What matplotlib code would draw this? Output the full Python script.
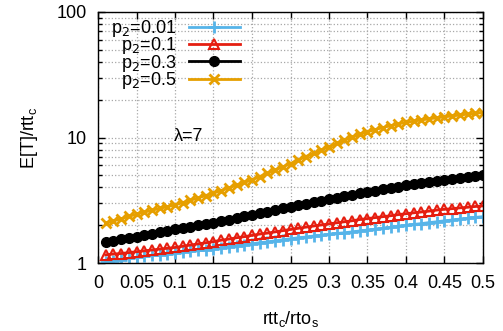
import numpy as np
import matplotlib
matplotlib.use("Agg")
import matplotlib.pyplot as plt
from matplotlib.ticker import LogLocator, NullFormatter, FuncFormatter

plt.rcParams['font.family'] = ['Liberation Sans', 'DejaVu Sans']

# x values: rtt_c / rto_s
x = [round(0.01 * i, 2) for i in range(1, 51)]

# E[T]/rtt_c for each p2
p2_001 = [1.02, 1.04, 1.06, 1.09, 1.11, 1.13, 1.15, 1.16, 1.18, 1.20,
          1.22, 1.24, 1.26, 1.28, 1.30, 1.32, 1.35, 1.37, 1.40, 1.42,
          1.45, 1.47, 1.50, 1.53, 1.56, 1.59, 1.61, 1.64, 1.66, 1.69,
          1.72, 1.74, 1.77, 1.80, 1.83, 1.86, 1.89, 1.92, 1.96, 1.99,
          2.03, 2.06, 2.10, 2.13, 2.17, 2.20, 2.24, 2.27, 2.31, 2.34]
p2_01 = [1.16, 1.18, 1.19, 1.21, 1.23, 1.25, 1.27, 1.29, 1.31, 1.33,
         1.36, 1.39, 1.42, 1.45, 1.48, 1.52, 1.55, 1.59, 1.62, 1.66,
         1.70, 1.73, 1.77, 1.81, 1.85, 1.89, 1.93, 1.97, 2.01, 2.05,
         2.09, 2.13, 2.17, 2.22, 2.26, 2.30, 2.34, 2.38, 2.43, 2.47,
         2.51, 2.55, 2.59, 2.64, 2.68, 2.71, 2.75, 2.78, 2.82, 2.85]
p2_03 = [1.48, 1.51, 1.55, 1.58, 1.62, 1.66, 1.71, 1.75, 1.80, 1.85,
         1.90, 1.95, 2.00, 2.05, 2.10, 2.16, 2.22, 2.29, 2.35, 2.42,
         2.49, 2.57, 2.64, 2.72, 2.80, 2.88, 2.97, 3.05, 3.14, 3.22,
         3.31, 3.40, 3.50, 3.59, 3.68, 3.77, 3.87, 3.96, 4.06, 4.15,
         4.24, 4.33, 4.42, 4.51, 4.60, 4.69, 4.77, 4.86, 4.94, 5.03]
p2_05 = [2.07, 2.16, 2.25, 2.35, 2.45, 2.54, 2.63, 2.72, 2.81, 2.90,
         3.03, 3.16, 3.30, 3.45, 3.60, 3.78, 3.97, 4.17, 4.38, 4.60,
         4.88, 5.18, 5.50, 5.84, 6.20, 6.62, 7.05, 7.50, 7.96, 8.45,
         8.98, 9.52, 10.05, 10.58, 11.10, 11.55, 12.00, 12.42, 12.82, 13.20,
         13.50, 13.80, 14.08, 14.35, 14.60, 14.85, 15.10, 15.35, 15.58, 15.80]

x_ticks = [0, 0.05, 0.1, 0.15, 0.2, 0.25, 0.3, 0.35, 0.4, 0.45, 0.5]
x_tick_labels = ['0', '0.05', '0.1', '0.15', '0.2', '0.25', '0.3', '0.35', '0.4', '0.45', '0.5']

fig = plt.figure(figsize=(5.03, 3.31), dpi=100)
ax = fig.add_axes([98 / 503, 1 - 263 / 331, 385 / 503, 251 / 331])

ax.plot(x, p2_001, color='#56b4e9', lw=2, marker='+', ms=8, mew=2, label='p$_2$=0.01')
ax.plot(x, p2_01, color='#e51e10', lw=2, marker='^', ms=7, mew=1.5, mfc='none', label='p$_2$=0.1')
ax.plot(x, p2_03, color='black', lw=2, marker='o', ms=7, label='p$_2$=0.3')
ax.plot(x, p2_05, color='#e69f00', lw=2, marker='x', ms=7, mew=2, label='p$_2$=0.5')

ax.set_yscale('log')
ax.set_xlim(0, 0.5)
ax.set_ylim(1, 100)
ax.set_xticks(x_ticks)
ax.set_xticklabels(x_tick_labels)
ax.yaxis.set_major_locator(LogLocator(base=10))
ax.yaxis.set_minor_locator(LogLocator(base=10, subs=np.arange(2, 10)))
ax.yaxis.set_minor_formatter(NullFormatter())
ax.yaxis.set_major_formatter(FuncFormatter(lambda v, p: '%g' % v))

ax.grid(True, which='both', axis='y', color='#a8a8a8', ls=':', lw=0.9)
ax.grid(True, which='major', axis='x', color='#a8a8a8', ls=':', lw=0.9)
ax.tick_params(which='both', direction='in', top=True, right=True, labelsize=13)
ax.tick_params(which='major', length=5, width=1)
ax.tick_params(which='minor', length=3, width=1)
ax.tick_params(axis='x', pad=9)
ax.tick_params(axis='y', pad=8)
for s in ax.spines.values():
    s.set_linewidth(1)

ax.set_xlabel('rtt$_\\mathregular{c}$/rto$_\\mathregular{s}$', fontsize=13, labelpad=12)
ax.set_ylabel('E[T]/rtt$_\\mathregular{c}$', fontsize=13, labelpad=12)
ax.text(0.118, 10.2, 'λ=7', fontsize=13, ha='center', va='center')

ax.legend(loc='upper left', frameon=False, markerfirst=False, fontsize=13,
          handlelength=2.8, handletextpad=0.7, labelspacing=-0.2,
          borderaxespad=0.0, bbox_to_anchor=(0.015, 1.005))

plt.savefig('out.png', dpi=100)
